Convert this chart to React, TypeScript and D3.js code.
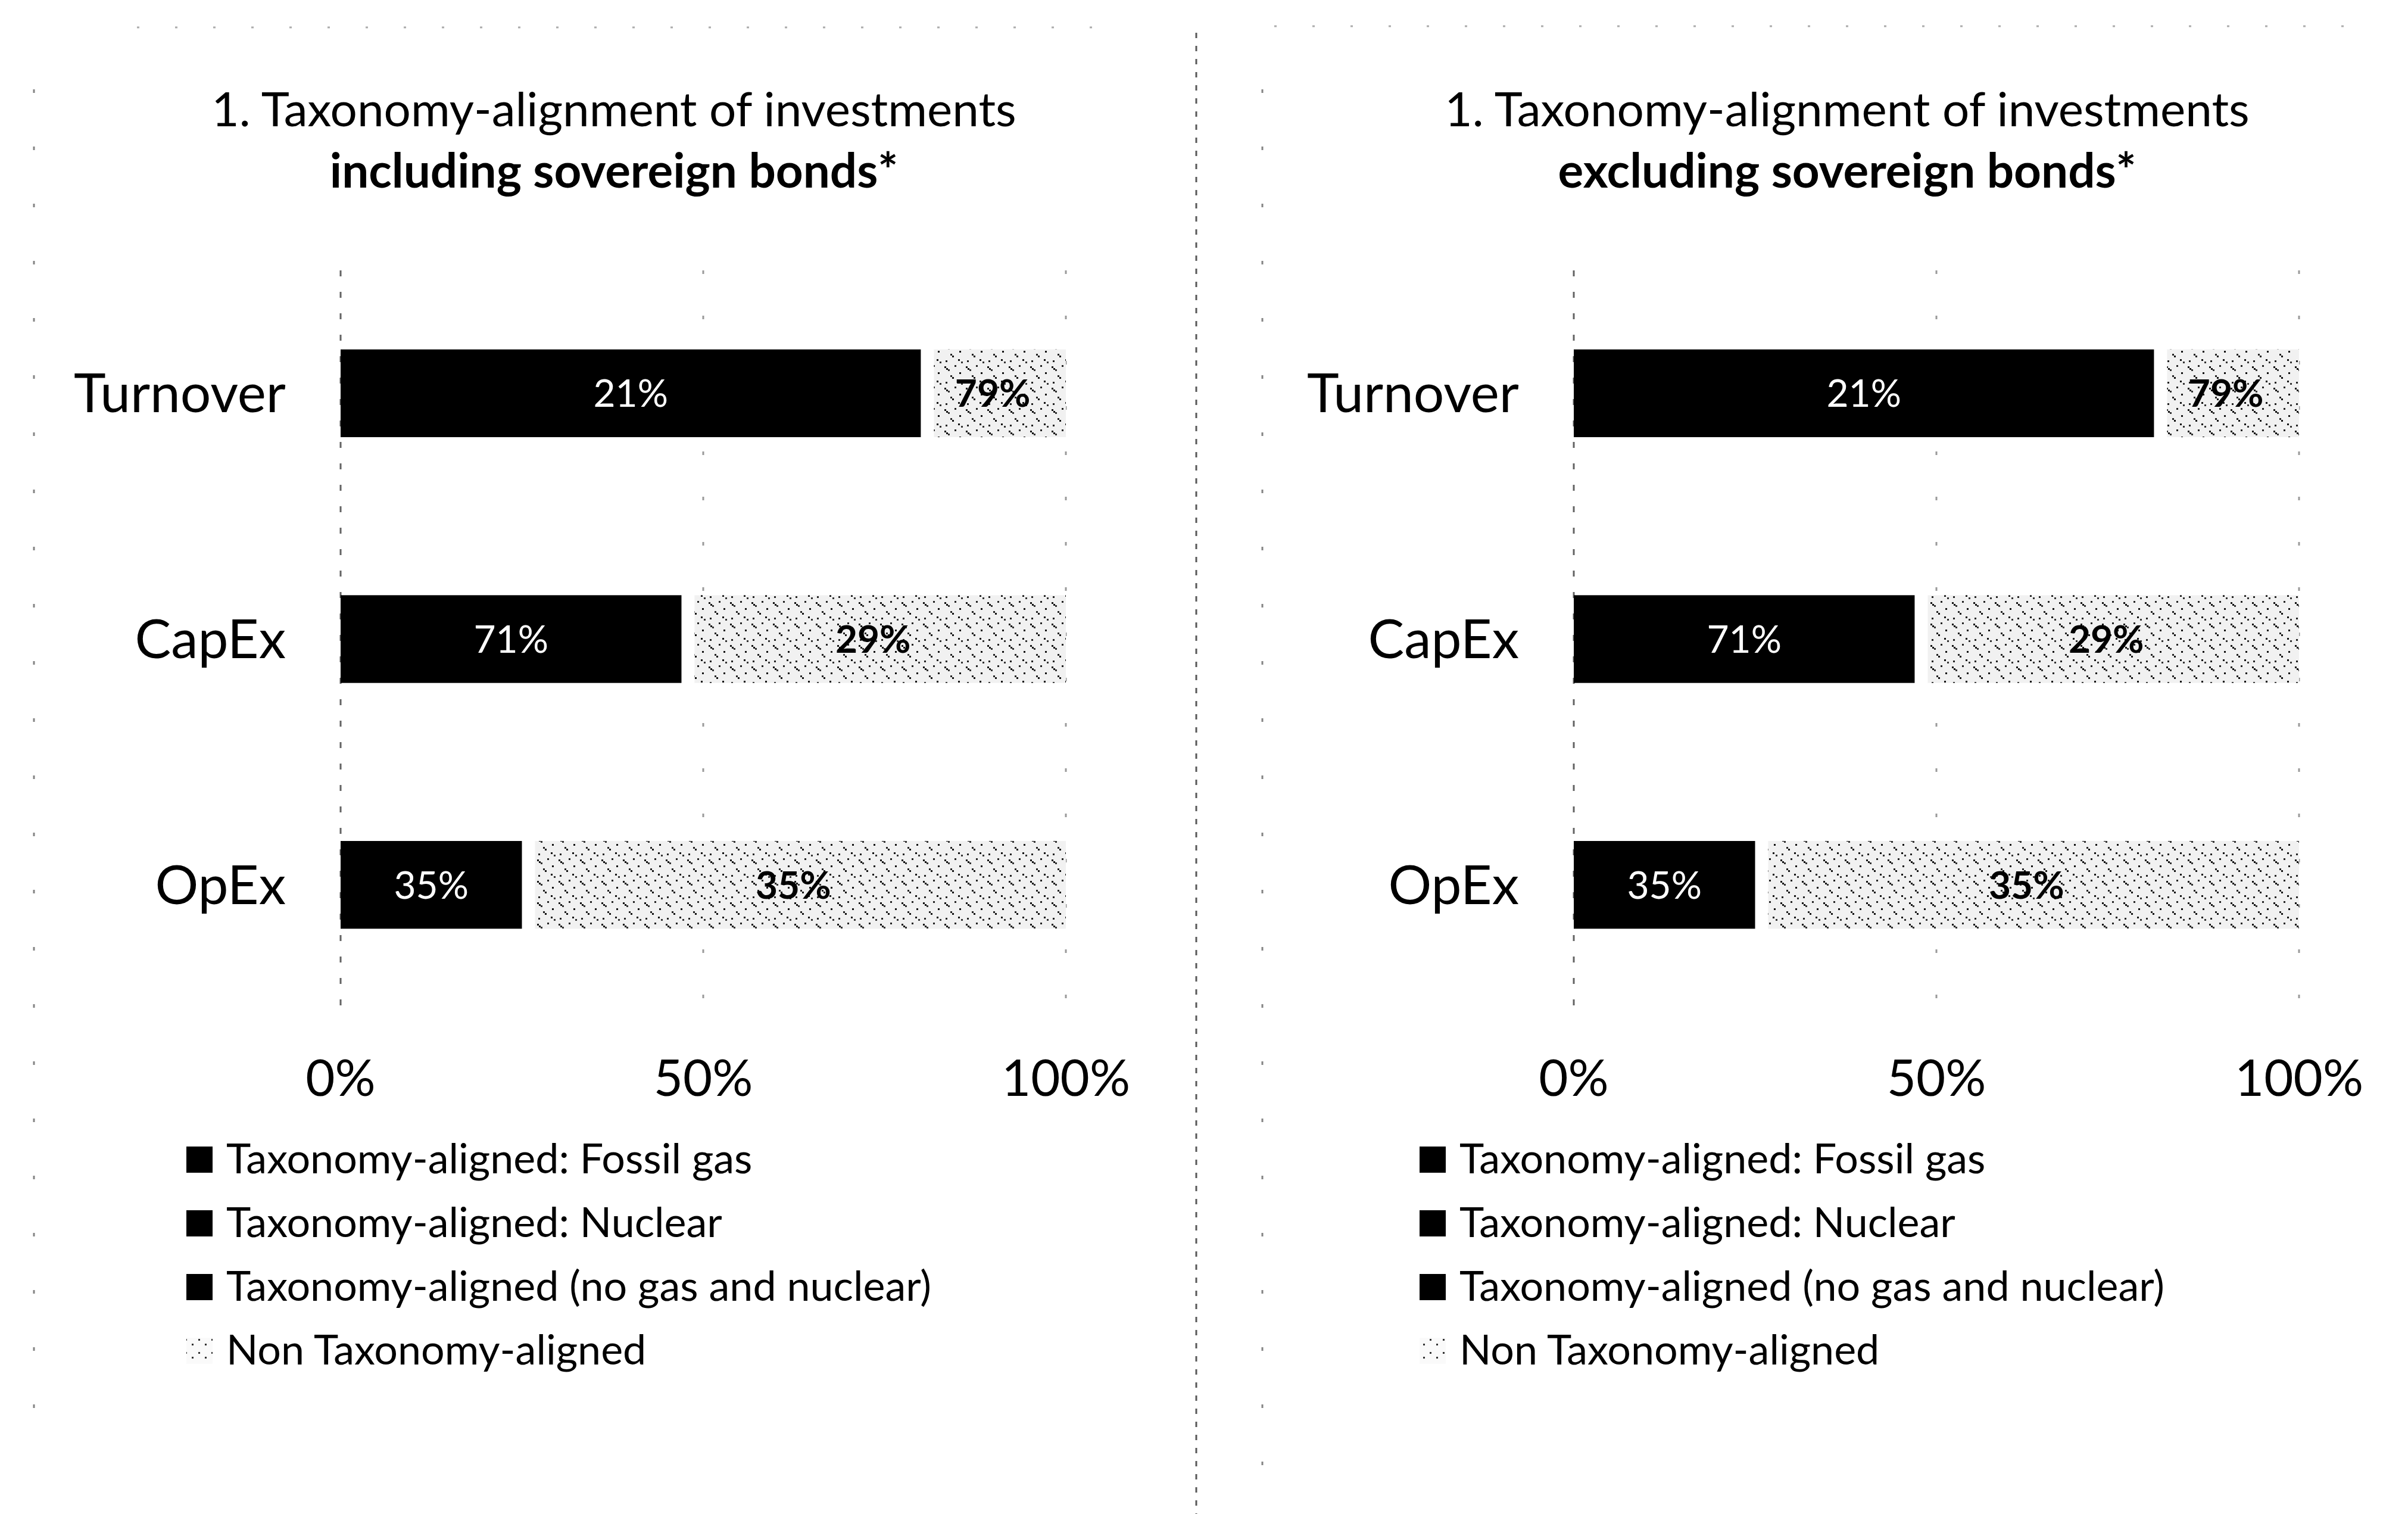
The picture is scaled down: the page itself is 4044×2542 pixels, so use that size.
import React from "react";
import * as d3 from "d3";

// ---------- data ----------
const categories = ["Turnover", "CapEx", "OpEx"];
const seriesKeys = [
  "Taxonomy-aligned: Fossil gas",
  "Taxonomy-aligned: Nuclear",
  "Taxonomy-aligned (no gas and nuclear)",
  "Non Taxonomy-aligned",
];
// bar lengths as drawn (share of 100%)
const inclFossilGas = [0, 0, 0];
const inclNuclear = [0, 0, 0];
const inclAligned = [80, 47, 25];
const inclNonAligned = [20, 53, 75];
const inclAlignedLabels = ["21%", "71%", "35%"];
const inclNonAlignedLabels = ["79%", "29%", "35%"];

const exclFossilGas = [0, 0, 0];
const exclNuclear = [0, 0, 0];
const exclAligned = [80, 47, 25];
const exclNonAligned = [20, 53, 75];
const exclAlignedLabels = ["21%", "71%", "35%"];
const exclNonAlignedLabels = ["79%", "29%", "35%"];

const xTicks = [0, 50, 100];
const titleLine1 = "1. Taxonomy-alignment of investments";
const inclTitle2 = "including sovereign bonds*";
const exclTitle2 = "excluding sovereign bonds*";

// ---------- layout ----------
const W = 4044;
const H = 2542;
const FONT = "Lato, 'Open Sans', sans-serif";

const seriesFill = ["#000", "#000", "#000", "url(#speckle)"];

type PanelProps = {
  dx: number;
  title2: string;
  fossil: number[];
  nuclear: number[];
  aligned: number[];
  non: number[];
  alignedLabels: string[];
  nonLabels: string[];
};

function Panel(p: PanelProps) {
  const x = d3.scaleLinear().domain([0, 100]).range([572 + p.dx, 1790 + p.dx]);
  const y = d3
    .scaleBand<string>()
    .domain(categories)
    .range([454, 1692])
    .paddingInner(0.643)
    .paddingOuter(0.3215);

  const rows = categories.map((c, i) => ({
    cat: c,
    [seriesKeys[0]]: p.fossil[i],
    [seriesKeys[1]]: p.nuclear[i],
    [seriesKeys[2]]: p.aligned[i],
    [seriesKeys[3]]: p.non[i],
  }));
  const stacked = d3.stack<any>().keys(seriesKeys)(rows);
  const gap = 22;
  const bw = y.bandwidth();

  return (
    <g>
      {/* titles */}
      <text x={1031 + p.dx} y={212} textAnchor="middle" fontSize={80} fontFamily={FONT} fill="#000">
        {titleLine1}
      </text>
      <text x={1031 + p.dx} y={315} textAnchor="middle" fontSize={80} fontWeight={700} fontFamily={FONT} fill="#000">
        {p.title2}
      </text>

      {/* faint gridlines */}
      {xTicks.map((t) => (
        <line
          key={"g" + t}
          x1={x(t)}
          x2={x(t)}
          y1={454}
          y2={1692}
          stroke="#222"
          strokeWidth={3}
          strokeDasharray={t === 0 ? "10 26" : "6 70"}
          opacity={t === 0 ? 0.7 : 0.45}
        />
      ))}

      {/* bars */}
      {stacked.map((s, si) =>
        s.map((d, i) => {
          const w = x(d[1]) - x(d[0]);
          if (w <= 0) return null;
          const isNon = si === 3;
          const x0 = x(d[0]) + (isNon ? gap : 0);
          return (
            <rect
              key={si + "-" + i}
              x={x0}
              y={y(categories[i])!}
              width={Math.max(0, x(d[1]) - x0)}
              height={bw}
              fill={seriesFill[si]}
            />
          );
        })
      )}

      {/* bar labels */}
      {stacked[2].map((d, i) => (
        <text
          key={"la" + i}
          x={(x(d[0]) + x(d[1])) / 2}
          y={y(categories[i])! + bw / 2 + 23}
          textAnchor="middle"
          fontSize={64}
          fontFamily={FONT}
          fill="#fff"
        >
          {p.alignedLabels[i]}
        </text>
      ))}
      {stacked[3].map((d, i) => (
        <text
          key={"ln" + i}
          x={(x(d[0]) + gap + x(d[1])) / 2 - 12}
          y={y(categories[i])! + bw / 2 + 23}
          textAnchor="middle"
          fontSize={64}
          fontWeight={700}
          fontFamily={FONT}
          fill="#000"
        >
          {p.nonLabels[i]}
        </text>
      ))}

      {/* category labels */}
      {categories.map((c) => (
        <text
          key={c}
          x={480 + p.dx}
          y={y(c)! + bw / 2 + 32}
          textAnchor="end"
          fontSize={91}
          fontFamily={FONT}
          fill="#000"
        >
          {c}
        </text>
      ))}

      {/* x tick labels */}
      {xTicks.map((t) => (
        <text key={"t" + t} x={x(t)} y={1840} textAnchor="middle" fontSize={85} fontFamily={FONT} fill="#000">
          {t + "%"}
        </text>
      ))}

      {/* legend */}
      {seriesKeys.map((k, i) => (
        <g key={k}>
          <rect
            x={313 + p.dx}
            y={1970 + i * 107 - 45}
            width={44}
            height={44}
            fill={i === 3 ? "url(#speckleLight)" : "#000"}
          />
          <text x={380 + p.dx} y={1970 + i * 107} fontSize={70} fontFamily={FONT} fill="#000">
            {k}
          </text>
        </g>
      ))}
    </g>
  );
}

export default function App() {
  return (
    <svg
      width={W}
      height={H}
      viewBox={`0 0 ${W} ${H}`}
      style={{ position: "absolute", left: 0, top: 0, background: "#fff" }}
    >
      <defs>
        <pattern id="speckle" width={36} height={36} patternUnits="userSpaceOnUse">
          <rect width={36} height={36} fill="#f1f1f1" />
          <rect x={2} y={3} width={3} height={3} fill="#111" />
          <rect x={5} y={6} width={3} height={3} fill="#111" />
          <rect x={8} y={8} width={3} height={3} fill="#333" />
          <rect x={19} y={1} width={3} height={3} fill="#222" />
          <rect x={27} y={13} width={3} height={3} fill="#111" />
          <rect x={12} y={18} width={3} height={3} fill="#222" />
          <rect x={15} y={21} width={3} height={3} fill="#111" />
          <rect x={4} y={29} width={3} height={3} fill="#222" />
          <rect x={25} y={27} width={3} height={3} fill="#111" />
          <rect x={30} y={31} width={3} height={3} fill="#333" />
        </pattern>
        <pattern id="speckleLight" width={22} height={22} patternUnits="userSpaceOnUse">
          <rect width={22} height={22} fill="#fafafa" />
          <rect x={3} y={4} width={3} height={3} fill="#333" />
          <rect x={14} y={12} width={3} height={3} fill="#333" />
        </pattern>
      </defs>
      <rect width={W} height={H} fill="#fff" />

      {/* scan border remnants */}
      <line x1={2009} x2={2009} y1={55} y2={H} stroke="#222" strokeWidth={3} strokeDasharray="9 13" opacity={0.75} />
      <line x1={57} x2={57} y1={150} y2={2450} stroke="#333" strokeWidth={3} strokeDasharray="6 90" opacity={0.6} />
      <line x1={2120} x2={2120} y1={150} y2={2520} stroke="#333" strokeWidth={3} strokeDasharray="6 90" opacity={0.6} />
      <line x1={230} x2={1860} y1={46} y2={46} stroke="#333" strokeWidth={3} strokeDasharray="4 60" opacity={0.4} />
      <line x1={2140} x2={3960} y1={44} y2={44} stroke="#333" strokeWidth={3} strokeDasharray="4 60" opacity={0.4} />

      <Panel
        dx={0}
        title2={inclTitle2}
        fossil={inclFossilGas}
        nuclear={inclNuclear}
        aligned={inclAligned}
        non={inclNonAligned}
        alignedLabels={inclAlignedLabels}
        nonLabels={inclNonAlignedLabels}
      />
      <Panel
        dx={2071}
        title2={exclTitle2}
        fossil={exclFossilGas}
        nuclear={exclNuclear}
        aligned={exclAligned}
        non={exclNonAligned}
        alignedLabels={exclAlignedLabels}
        nonLabels={exclNonAlignedLabels}
      />
    </svg>
  );
}
